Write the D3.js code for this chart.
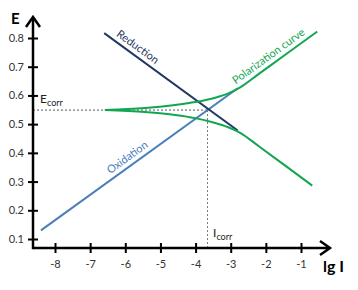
<!DOCTYPE html>
<html>
<head>
<meta charset="utf-8">
<script src="https://cdn.jsdelivr.net/npm/d3@7"></script>
<style>
  body { margin: 0; background: #fff; }
  text { font-family: Lato, "Open Sans", sans-serif; }
</style>
</head>
<body>
<div id="chart"></div>
<script>
// tick values
var xTicks = [-8, -7, -6, -5, -4, -3, -2, -1];
var yTicks = [0.1, 0.2, 0.3, 0.4, 0.5, 0.6, 0.7, 0.8];

// straight Tafel lines (lg I, E)
var oxidation = [[-8.4, 0.13], [-2.8, 0.625]];
var reduction = [[-6.6, 0.817], [-2.8, 0.478]];

// polarization curve branches
var polarUpper = [[-6.58, 0.549], [-5.44, 0.556], [-4.58, 0.567], [-4.01, 0.577], [-3.44, 0.592],
                  [-3.07, 0.607], [-2.73, 0.628], [-2.2, 0.675], [-1.4, 0.746], [-0.54, 0.822]];
var polarLower = [[-6.58, 0.549], [-5.44, 0.542], [-4.58, 0.532], [-4.01, 0.521], [-3.44, 0.504],
                  [-3.07, 0.489], [-2.73, 0.470], [-2.2, 0.423], [-1.4, 0.351], [-0.68, 0.286]];

var Ecorr = 0.549;
var Icorr = -3.66;

var svgWidth = 358, svgHeight = 290;

var svg = d3.select("#chart").append("svg")
  .attr("width", svgWidth)
  .attr("height", svgHeight);

var x = d3.scaleLinear().domain([-8, -1]).range([55, 301]);
var y = d3.scaleLinear().domain([0.1, 0.8]).range([239, 38]);

var x0 = 33, y0 = 248;   // axis origin in pixels
var xEnd = 330, yEnd = 17;

// dashed guides
svg.append("line")
  .attr("x1", x0).attr("x2", x(Icorr))
  .attr("y1", y(Ecorr)).attr("y2", y(Ecorr))
  .attr("stroke", "#555").attr("stroke-width", 1).attr("stroke-dasharray", "2,2");
svg.append("line")
  .attr("x1", x(Icorr)).attr("x2", x(Icorr))
  .attr("y1", y(Ecorr)).attr("y2", y0)
  .attr("stroke", "#777").attr("stroke-width", 1).attr("stroke-dasharray", "2,2");

var line = d3.line().x(d => x(d[0])).y(d => y(d[1]));
var curve = d3.line().x(d => x(d[0])).y(d => y(d[1])).curve(d3.curveMonotoneX);

svg.append("path").datum(oxidation).attr("d", line)
  .attr("fill", "none").attr("stroke", "#4a7ebb").attr("stroke-width", 2);
svg.append("path").datum(reduction).attr("d", line)
  .attr("fill", "none").attr("stroke", "#1f3864").attr("stroke-width", 2);

[polarUpper, polarLower].forEach(function(p) {
  svg.append("path").datum(p).attr("d", curve)
    .attr("fill", "none").attr("stroke", "#12a650").attr("stroke-width", 2);
});

// rotated labels along the lines
function lineLabel(pts, atX, txt, color) {
  var p1 = pts[0], p2 = pts[pts.length - 1];
  var ang = Math.atan2(y(p2[1]) - y(p1[1]), x(p2[0]) - x(p1[0])) * 180 / Math.PI;
  var t = (atX - p1[0]) / (p2[0] - p1[0]);
  var py = p1[1] + t * (p2[1] - p1[1]);
  svg.append("text")
    .attr("transform", `translate(${x(atX)},${y(py)}) rotate(${ang})`)
    .attr("y", -5)
    .attr("text-anchor", "middle")
    .attr("font-size", "11px")
    .attr("fill", color)
    .text(txt);
}
lineLabel(reduction, -5.79, "Reduction", "#1f3864");
lineLabel(oxidation, -5.8, "Oxidation", "#4a7ebb");
lineLabel([[-2.73, 0.628], [-0.54, 0.822]], -1.78, "Polarization curve", "#12a650");

// axes
var gx = svg.append("g").attr("transform", `translate(0,${y0})`);
gx.call(d3.axisBottom(x).tickValues(xTicks).tickSize(5).tickPadding(7).tickFormat(d => String(d)));
gx.append("g").call(d3.axisTop(x).tickValues(xTicks).tickSize(5).tickFormat(""));

var gy = svg.append("g").attr("transform", `translate(${x0},0)`);
gy.call(d3.axisLeft(y).tickValues(yTicks).tickSize(5).tickPadding(4).tickFormat(d3.format(".1f")));
gy.append("g").call(d3.axisRight(y).tickValues(yTicks).tickSize(5).tickFormat(""));

svg.selectAll(".domain").remove();
svg.selectAll(".tick line").attr("stroke", "#000").attr("stroke-width", 2);
svg.selectAll(".tick text").attr("font-size", "11px").attr("fill", "#333")
  .style("font-family", "Lato, sans-serif");

svg.append("line").attr("x1", x0).attr("x2", xEnd - 1).attr("y1", y0).attr("y2", y0)
  .attr("stroke", "#000").attr("stroke-width", 2.5);
svg.append("line").attr("x1", x0).attr("x2", x0).attr("y1", y0 + 1.2).attr("y2", yEnd + 1)
  .attr("stroke", "#000").attr("stroke-width", 2.5);

// arrowheads
svg.append("path").attr("d", `M${x0 - 7},${yEnd + 10} L${x0},${yEnd} L${x0 + 7},${yEnd + 10}`)
  .attr("fill", "none").attr("stroke", "#000").attr("stroke-width", 2.5);
svg.append("path").attr("d", `M${xEnd - 10},${y0 - 7} L${xEnd},${y0} L${xEnd - 10},${y0 + 7}`)
  .attr("fill", "none").attr("stroke", "#000").attr("stroke-width", 2.5);

// axis titles
svg.append("text").attr("x", 11).attr("y", 24)
  .attr("font-size", "15px").attr("font-weight", "bold").text("E");
svg.append("text").attr("x", 323).attr("y", 272)
  .attr("font-size", "16px").attr("font-weight", "bold").text("lg I");

// Ecorr / Icorr labels
var ec = svg.append("text").attr("x", 40).attr("y", 103).attr("font-size", "12px").attr("fill", "#222");
ec.append("tspan").text("E");
ec.append("tspan").attr("font-size", "9px").attr("dy", 3).text("corr");

var ic = svg.append("text").attr("x", 213).attr("y", 237).attr("font-size", "12px").attr("fill", "#222");
ic.append("tspan").text("I");
ic.append("tspan").attr("font-size", "9px").attr("dy", 3).text("corr");
</script>
</body>
</html>
